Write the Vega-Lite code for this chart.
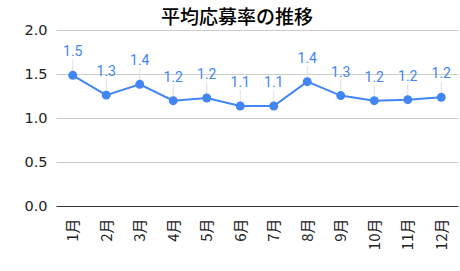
{
  "$schema": "https://vega.github.io/schema/vega-lite/v6.json",
  "autosize": {"type": "none"},
  "width": 402,
  "height": 176,
  "padding": {"left": 56, "top": 30, "right": 2, "bottom": 65},
  "background": "white",
  "title": {
    "text": "平均応募率の推移",
    "font": "Noto Sans CJK JP",
    "fontSize": 19,
    "fontWeight": 500,
    "color": "#000000",
    "anchor": "middle",
    "frame": "group",
    "dx": -20,
    "dy": 9,
    "offset": 3
  },
  "config": {"view": {"stroke": null}},
  "data": {
    "values": [
      {"month": "1月", "value": 1.485},
      {"month": "2月", "value": 1.26},
      {"month": "3月", "value": 1.383},
      {"month": "4月", "value": 1.197},
      {"month": "5月", "value": 1.227},
      {"month": "6月", "value": 1.136},
      {"month": "7月", "value": 1.136},
      {"month": "8月", "value": 1.413},
      {"month": "9月", "value": 1.255},
      {"month": "10月", "value": 1.197},
      {"month": "11月", "value": 1.208},
      {"month": "12月", "value": 1.235}
    ]
  },
  "encoding": {
    "x": {
      "field": "month",
      "type": "ordinal",
      "sort": null,
      "scale": {"type": "point", "padding": 0.5},
      "axis": {
        "title": null,
        "labelAngle": -90,
        "labelAlign": "right",
        "labelBaseline": "middle",
        "labelFont": "Noto Sans CJK JP",
        "labelFontSize": 15,
        "labelColor": "#222222",
        "labelPadding": 12,
        "ticks": false,
        "domain": false,
        "grid": false
      }
    },
    "y": {
      "field": "value",
      "type": "quantitative",
      "scale": {"domain": [0, 2], "nice": false},
      "axis": {
        "title": null,
        "values": [0, 0.5, 1, 1.5, 2],
        "format": ".1f",
        "labelFont": "DejaVu Sans",
        "labelFontSize": 14.5,
        "labelColor": "#222222",
        "labelPadding": 9,
        "ticks": false,
        "domain": false,
        "gridColor": {"condition": {"test": "datum.value === 0", "value": "#333333"}, "value": "#cccccc"},
        "gridWidth": 1
      }
    }
  },
  "layer": [
    {
      "mark": {"type": "rule", "color": "#e0e0e0", "strokeWidth": 1, "yOffset": -16, "y2Offset": -3},
      "encoding": {"y2": {"field": "value"}}
    },
    {
      "mark": {"type": "line", "color": "#4285F4", "strokeWidth": 2}
    },
    {
      "mark": {"type": "point", "filled": true, "color": "#4285F4", "size": 80, "opacity": 1}
    },
    {
      "mark": {"type": "text", "dy": -23, "color": "#4285F4", "font": "Roboto", "fontSize": 14, "baseline": "middle"},
      "encoding": {"text": {"field": "value", "type": "quantitative", "format": ".1f"}}
    }
  ]
}
